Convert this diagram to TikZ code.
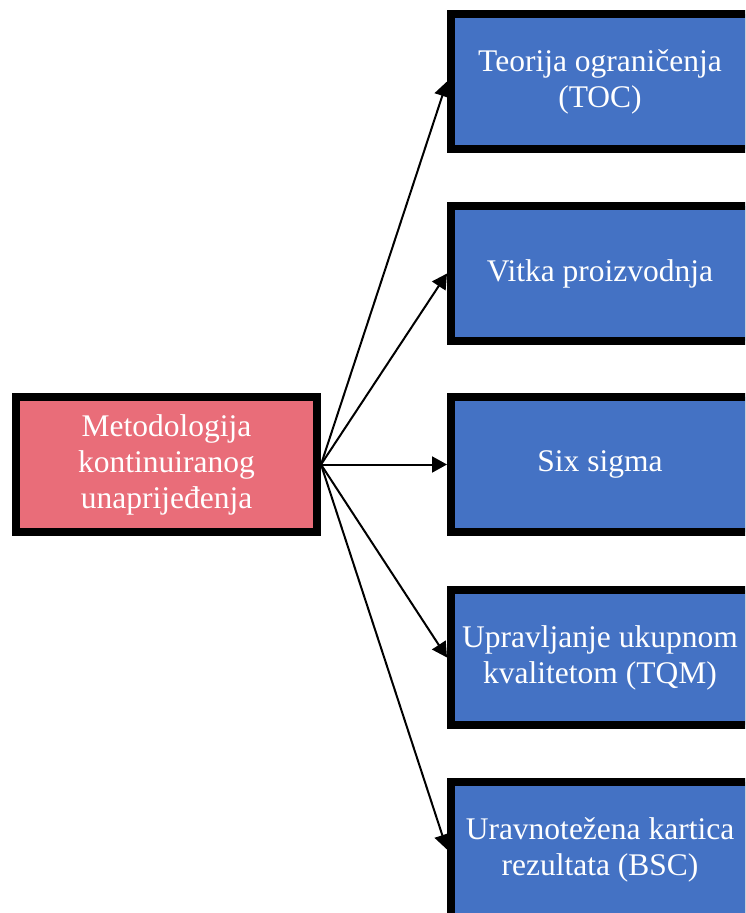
\documentclass[tikz,border=0pt]{standalone}
\usepackage{fontspec}
\setmainfont{Liberation Serif}
\usetikzlibrary{arrows.meta}
\definecolor{pinkbox}{HTML}{E96D79}
\definecolor{bluebox}{HTML}{4472C4}
\tikzset{
  boxbase/.style={draw=black, line width=8pt, rectangle, align=center, text=white,
    font=\fontsize{31.5}{36}\selectfont, inner sep=0pt},
  srcbox/.style={boxbase, fill=pinkbox, minimum width=301pt, minimum height=135pt},
  tgtbox/.style={boxbase, fill=bluebox, minimum width=298pt, minimum height=135pt},
  conn/.style={line width=2pt, -{Triangle[length=15pt,width=16pt]}}
}
\begin{document}
\begin{tikzpicture}[x=1pt,y=-1pt]
\useasboundingbox (0,0) rectangle (745,913);
\clip (0,0) rectangle (745,913);
\node[srcbox] (src) at (166.5,464.5) {Metodologija\\kontinuiranog\\unaprijeđenja};
\node[tgtbox] (t1) at (600,81.5) {Teorija ograničenja\\(TOC)};
\node[tgtbox] (t2) at (600,273.5) {Vitka proizvodnja};
\node[tgtbox] (t3) at (600,464.5) {Six sigma};
\node[tgtbox] (t4) at (600,657.5) {Upravljanje ukupnom\\kvalitetom (TQM)};
\node[tgtbox] (t5) at (600,849.5) {Uravnotežena kartica\\rezultata (BSC)};
\foreach \t in {t1,t2,t3,t4,t5}{
  \draw[conn] (src.east) -- (\t.west);
}
\end{tikzpicture}
\end{document}
